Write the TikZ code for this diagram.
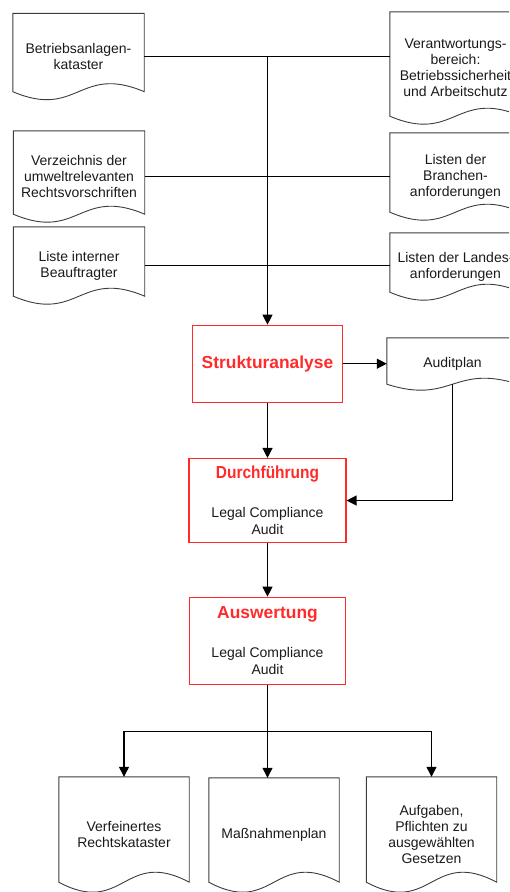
\documentclass[tikz,border=0pt]{standalone}
\usepackage{fontspec}
\usepackage{graphicx}
\setmainfont{Liberation Sans}
\usetikzlibrary{calc,arrows.meta}
\definecolor{boxred}{HTML}{FF2A2A}
\definecolor{ink}{HTML}{1A1A1A}
\newcommand\docshape[2]{%
  \draw[docline] ($(#1.south west)+(0,-#2)$) -- (#1.north west) -- (#1.north east) -- ($(#1.south east)+(0,-#2)$)
    .. controls +(-65,-3.46*#2) and +(65,3.46*#2) .. ($(#1.south west)+(0,-#2)$) -- cycle;
  \coordinate (#1-mid) at ($(#1.south)+(0,-#2)$);}
\newcommand\ttl[2]{{\fontsize{#1}{#1}\selectfont\bfseries\color{boxred}#2}}
\tikzset{
  doc/.style={rectangle, minimum width=131pt, inner sep=2pt, align=center,
    font=\fontsize{14}{16}\selectfont, text=ink},
  docline/.style={draw=ink!85, line width=0.9pt},
  stage/.style={rectangle, draw=boxred, line width=1.1pt, align=center, inner sep=2pt,
    font=\fontsize{14}{17.5}\selectfont, text=ink},
  conn/.style={draw=black, line width=1.2pt},
  arr/.style={conn, -{Triangle[length=10pt,width=10pt]}},
}
\begin{document}
\begin{tikzpicture}[x=1pt,y=-1pt]
\useasboundingbox (0,0) rectangle (509,892);
\clip (0,0) rectangle (509,892);
% input documents
\node[doc, minimum height=86pt] (l1) at (78.5,56.5) {Betriebsanlagen-\\kataster};
\node[doc, minimum height=91pt] (l2) at (79,176.5) {Verzeichnis der\\umweltrelevanten\\Rechtsvorschriften};
\node[doc, minimum height=77pt] (l3) at (79,265.5) {Liste interner\\Beauftragter};
\node[doc, minimum height=112pt] (r1) at (455.5,68) {Verantwortungs-\\bereich:\\Betriebssicherheit\\und Arbeitschutz};
\node[doc, minimum height=87pt] (r2) at (455.5,176.5) {Listen der\\Branchen-\\anforderungen};
\node[doc, minimum height=67pt] (r3) at (455.5,266.5) {Listen der Landes-\\anforderungen};
\docshape{l1}{8}\docshape{l2}{8}\docshape{l3}{8}
\docshape{r1}{8}\docshape{r2}{8}\docshape{r3}{8}
% stages
\node[stage, minimum width=150pt, minimum height=77pt] (sa) at (267.5,363.7) {\ttl{17.4}{Strukturanalyse}};
\node[stage, minimum width=157pt, minimum height=84pt] (df) at (267.5,500.5) {\ttl{17.4}{\scalebox{0.89}[1]{Durchführung}}\\[21pt]Legal Compliance\\Audit};
\node[stage, minimum width=156pt, minimum height=87pt] (aw) at (267.5,640.7) {\ttl{17.4}{Auswertung}\\[21pt]Legal Compliance\\Audit};
% audit plan
\node[doc, minimum height=52pt] (ap) at (452.5,364) {Auditplan};
\docshape{ap}{6}
% outputs
\node[doc, minimum width=130pt, minimum height=115pt] (b1) at (124,834.5) {Verfeinertes\\Rechtskataster};
\node[doc, minimum width=130pt, minimum height=114pt] (b2) at (274,835) {Maßnahmenplan};
\node[doc, minimum width=130pt, minimum height=115pt] (b3) at (431.5,834.5) {Aufgaben,\\Pflichten zu\\ausgewählten\\Gesetzen};
\docshape{b1}{10}\docshape{b2}{10}\docshape{b3}{10}
% connectors
\draw[conn] (l1.east) -- (r1.west |- l1.east);
\draw[conn] (l2.east) -- (r2.west |- l2.east);
\draw[conn] (l3.east) -- (r3.west |- l3.east);
\draw[arr] (sa.north |- l1.east) -- (sa.north);
\draw[arr] (sa.east) -- (ap.west |- sa.east);
\draw[arr] (ap-mid) |- (df.east);
\draw[arr] (sa.south) -- (df.north);
\draw[arr] (df.south) -- (aw.north);
\coordinate (split) at ($(aw.south)+(0,47)$);
\draw[arr] (aw.south) -- (aw.south |- b2.north);
\draw[arr] (split) -| (b1.north);
\draw[arr] (split) -| (b3.north);
\end{tikzpicture}
\end{document}
